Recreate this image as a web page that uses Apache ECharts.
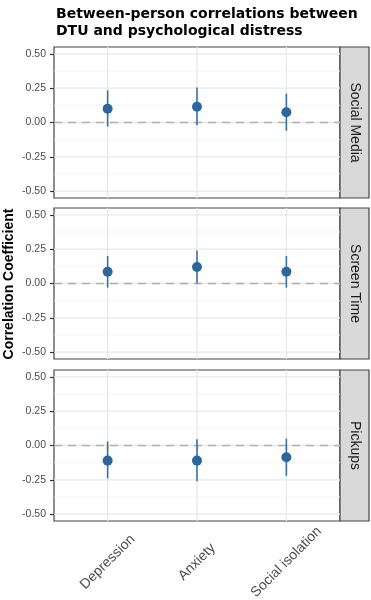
<!DOCTYPE html>
<html>
<head>
<meta charset="utf-8">
<script src="https://cdn.jsdelivr.net/npm/echarts@6.0.0/dist/echarts.min.js"></script>
<style>
    html, body { margin: 0; padding: 0; background: #fff; }
    #main { width: 371px; height: 600px; }
</style>
</head>
<body>
<div id="main"></div>
<script>
// 数据
var outcomes = ['Depression', 'Anxiety', 'Social isolation'];
var facets = ['Social Media', 'Screen Time', 'Pickups'];

var estSocialMedia = [0.10, 0.115, 0.075];
var lowSocialMedia = [-0.03, -0.02, -0.06];
var highSocialMedia = [0.235, 0.255, 0.21];

var estScreenTime = [0.085, 0.12, 0.085];
var lowScreenTime = [-0.03, 0.0, -0.03];
var highScreenTime = [0.20, 0.24, 0.20];

var estPickups = [-0.11, -0.11, -0.085];
var lowPickups = [-0.24, -0.26, -0.22];
var highPickups = [0.03, 0.045, 0.05];

var yTicks = [-0.5, -0.25, 0, 0.25, 0.5];
var yMinor = [-0.375, -0.125, 0.125, 0.375];

var est = [estSocialMedia, estScreenTime, estPickups];
var low = [lowSocialMedia, lowScreenTime, lowPickups];
var high = [highSocialMedia, highScreenTime, highPickups];

(function () {
    chartShow()
}())

function chartShow() {
    var myChart = echarts.init(document.getElementById('main'));
    var panelTop = [47, 208, 370];
    var panelH = 151;
    var xPos = [1, 2, 3];

    var grids = [], xAxes = [], yAxes = [], series = [], graphics = [];

    for (var i = 0; i < facets.length; i++) {
        grids.push({
            left: 54, right: 31, top: panelTop[i], height: panelH,
            outerBoundsMode: 'none', containLabel: false,
            show: true, backgroundColor: '#fff',
            borderColor: '#444', borderWidth: 1.2
        });
        var last = i === facets.length - 1;
        xAxes.push({
            gridIndex: i, type: 'value', min: 0.4, max: 3.6,
            axisLine: {show: false},
            splitLine: {show: false},
            axisTick: {show: last, customValues: xPos, length: 4, lineStyle: {color: '#333', width: 1.2}},
            axisLabel: {
                show: last, customValues: xPos, rotate: 45, margin: 41,
                align: 'center', verticalAlign: 'middle',
                color: '#4d4d4d', fontSize: 14, fontFamily: 'Liberation Sans',
                formatter: function (v) { return outcomes[Math.round(v) - 1]; }
            }
        });
        yAxes.push({
            gridIndex: i, type: 'value', min: -0.55, max: 0.55,
            axisLine: {show: false},
            splitLine: {show: false},
            axisTick: {show: true, customValues: yTicks, length: 4, lineStyle: {color: '#333', width: 1.2}},
            axisLabel: {
                customValues: yTicks, margin: 8,
                color: '#4d4d4d', fontSize: 10.5, fontFamily: 'Liberation Sans',
                formatter: function (v) { return v.toFixed(2); }
            }
        });

        // 网格线
        var lines = [];
        yTicks.forEach(function (v) { lines.push([1, v, 0]); });
        yMinor.forEach(function (v) { lines.push([1, v, 1]); });
        xPos.forEach(function (v) { lines.push([v, 0, 2]); });
        lines.push([1, 0, 3]);
        series.push({
            type: 'custom', xAxisIndex: i, yAxisIndex: i, z: 1, silent: true,
            data: lines,
            renderItem: function (params, api) {
                var cs = params.coordSys;
                var kind = api.value(2);
                var p = api.coord([api.value(0), api.value(1)]);
                if (kind === 2) {
                    return {type: 'line', shape: {x1: p[0], y1: cs.y, x2: p[0], y2: cs.y + cs.height},
                        style: {stroke: '#e8e8e8', lineWidth: 1.3}};
                }
                var st = {stroke: '#e8e8e8', lineWidth: 1.3};
                if (kind === 1) st = {stroke: '#f2f2f2', lineWidth: 0.8};
                if (kind === 3) st = {stroke: '#b0b0b0', lineWidth: 1.5, lineDash: [8, 6]};
                return {type: 'line', z2: kind === 3 ? 5 : 0,
                    shape: {x1: cs.x, y1: p[1], x2: cs.x + cs.width, y2: p[1]}, style: st};
            }
        });

        // 误差线
        series.push({
            type: 'custom', xAxisIndex: i, yAxisIndex: i, z: 3,
            encode: {x: 0, y: [1, 2]},
            data: xPos.map(function (x, k) { return [x, low[i][k], high[i][k]]; }),
            renderItem: function (params, api) {
                var a = api.coord([api.value(0), api.value(1)]);
                var b = api.coord([api.value(0), api.value(2)]);
                return {type: 'line', shape: {x1: a[0], y1: a[1], x2: b[0], y2: b[1]},
                    style: {stroke: '#3a72a6', lineWidth: 1.6}};
            }
        });

        // 点
        series.push({
            type: 'scatter', xAxisIndex: i, yAxisIndex: i, z: 4,
            symbolSize: 10,
            itemStyle: {color: '#2c679c', opacity: 1},
            data: xPos.map(function (x, k) { return [x, est[i][k]]; })
        });

        // 分面标签
        graphics.push({
            type: 'rect', shape: {x: 340, y: panelTop[i], width: 29, height: panelH},
            style: {fill: '#d9d9d9', stroke: '#444', lineWidth: 1.2}
        });
        graphics.push({
            type: 'text', x: 355, y: panelTop[i] + panelH / 2, rotation: -Math.PI / 2,
            style: {text: facets[i], fill: '#1a1a1a', font: '14px "Liberation Sans"',
                align: 'center', verticalAlign: 'middle'}
        });
    }

    graphics.push({
        type: 'text', x: 9, y: 284, rotation: Math.PI / 2,
        style: {text: 'Correlation Coefficient', fill: '#000', font: 'bold 14px "Liberation Sans"',
            align: 'center', verticalAlign: 'middle'}
    });

    var option = {
        animation: false,
        title: {
            text: 'Between-person correlations between\nDTU and psychological distress',
            left: 51, top: 1,
            textStyle: {fontFamily: 'DejaVu Sans', fontWeight: 'bold', fontSize: 14, lineHeight: 17, color: '#000'}
        },
        grid: grids,
        xAxis: xAxes,
        yAxis: yAxes,
        series: series,
        graphic: graphics
    };
    myChart.setOption(option);
}
</script>
</body>
</html>
